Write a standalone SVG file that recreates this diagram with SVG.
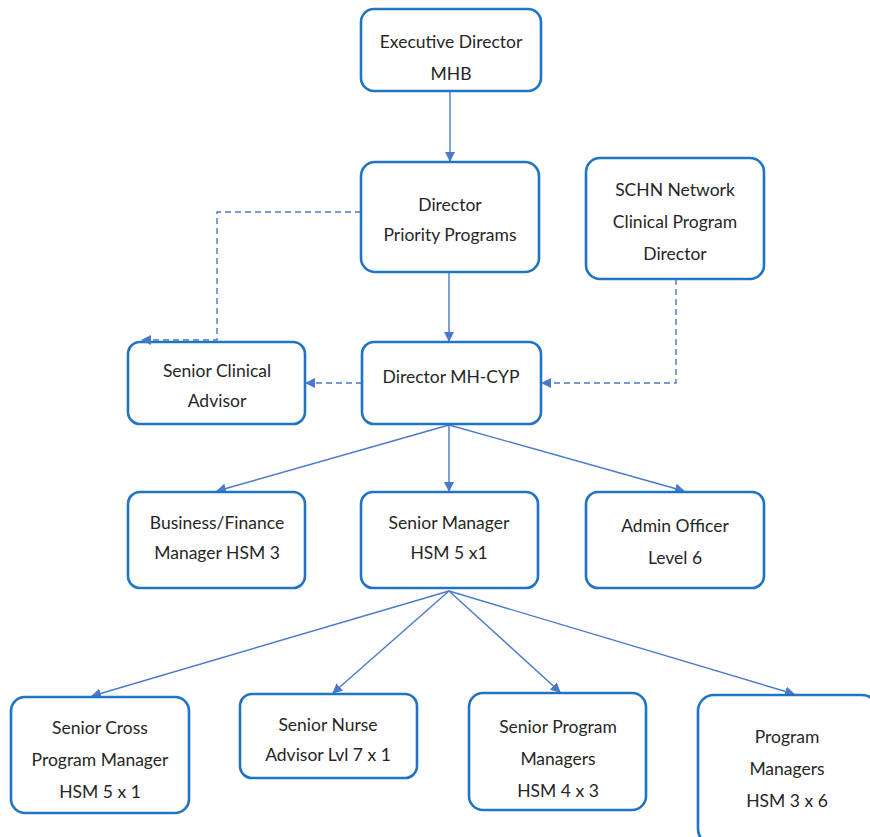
<svg xmlns="http://www.w3.org/2000/svg" width="870" height="837" viewBox="0 0 870 837">
<style>
.box{fill:#fff;stroke:#1f74c4;stroke-width:2.6}
.t{font-family:Lato,"Open Sans","Liberation Sans",sans-serif;font-size:17.5px;fill:#262626;text-anchor:middle;dominant-baseline:central}
.c{fill:none;stroke:#4a78cc;stroke-width:1.4}
.d{stroke-dasharray:6 4}
</style>
<defs>
<marker id="a" viewBox="0 0 10 10" refX="9" refY="5" markerWidth="10" markerHeight="10" markerUnits="userSpaceOnUse" orient="auto">
<path d="M0,0 L10,5 L0,10 z" fill="#4a78cc"/>
</marker>
</defs>
<rect width="870" height="837" fill="#fff"/>
<g id="sca"><rect class="box" x="128" y="342" width="177" height="82" rx="12"/>
<text class="t" x="217" y="370">Senior Clinical</text><text class="t" x="217" y="400">Advisor</text></g>
<g id="connectors">
<path class="c" d="M450,91 V161" marker-end="url(#a)"/>
<path class="c" d="M449,272 V341" marker-end="url(#a)"/>
<path class="c d" d="M361,212 H217 V340 H142" marker-end="url(#a)"/>
<path class="c d" d="M362,383 H306" marker-end="url(#a)"/>
<path class="c d" d="M676,279 V383 H542" marker-end="url(#a)"/>
<path class="c" d="M449,425 L217,491" marker-end="url(#a)"/>
<path class="c" d="M449,425 V491" marker-end="url(#a)"/>
<path class="c" d="M449,425 L684,491" marker-end="url(#a)"/>
<path class="c" d="M449,591 L92,696" marker-end="url(#a)"/>
<path class="c" d="M449,591 L333,693" marker-end="url(#a)"/>
<path class="c" d="M449,591 L560,692" marker-end="url(#a)"/>
<path class="c" d="M449,591 L794,694" marker-end="url(#a)"/>
</g>
<g id="exec"><rect class="box" x="361" y="9" width="180" height="82" rx="13"/>
<text class="t" x="451" y="41">Executive Director</text><text class="t" x="451" y="73">MHB</text></g>
<g id="dpp"><rect class="box" x="361" y="162" width="178" height="110" rx="14"/>
<text class="t" x="450" y="204">Director</text><text class="t" x="450" y="234">Priority Programs</text></g>
<g id="schn"><rect class="box" x="586" y="158" width="178" height="121" rx="14"/>
<text class="t" x="675" y="189">SCHN Network</text><text class="t" x="675" y="221">Clinical Program</text><text class="t" x="675" y="253">Director</text></g>
<g id="mhcyp"><rect class="box" x="362" y="342" width="179" height="82" rx="12"/>
<text class="t" x="451" y="376">Director MH-CYP</text></g>
<g id="bfm"><rect class="box" x="128" y="492" width="177" height="96" rx="12"/>
<text class="t" x="217" y="522">Business/Finance</text><text class="t" x="217" y="552">Manager HSM 3</text></g>
<g id="sm"><rect class="box" x="361" y="492" width="177" height="96" rx="12"/>
<text class="t" x="449" y="522">Senior Manager</text><text class="t" x="449" y="552">HSM 5 x1</text></g>
<g id="admin"><rect class="box" x="586" y="492" width="178" height="96" rx="12"/>
<text class="t" x="675" y="525">Admin Officer</text><text class="t" x="675" y="557">Level 6</text></g>
<g id="scpm"><rect class="box" x="11" y="697" width="178" height="116" rx="14"/>
<text class="t" x="100" y="727">Senior Cross</text><text class="t" x="100" y="759">Program Manager</text><text class="t" x="100" y="791">HSM 5 x 1</text></g>
<g id="sna"><rect class="box" x="240" y="694" width="177" height="84" rx="12"/>
<text class="t" x="328" y="724">Senior Nurse</text><text class="t" x="328" y="754">Advisor Lvl 7 x 1</text></g>
<g id="spm"><rect class="box" x="469" y="693" width="177" height="117" rx="14"/>
<text class="t" x="558" y="726">Senior Program</text><text class="t" x="558" y="758">Managers</text><text class="t" x="558" y="790">HSM 4 x 3</text></g>
<g id="pm"><rect class="box" x="698" y="695" width="180" height="150" rx="16"/>
<text class="t" x="787" y="736">Program</text><text class="t" x="787" y="768">Managers</text><text class="t" x="787" y="800">HSM 3 x 6</text></g>
</svg>
